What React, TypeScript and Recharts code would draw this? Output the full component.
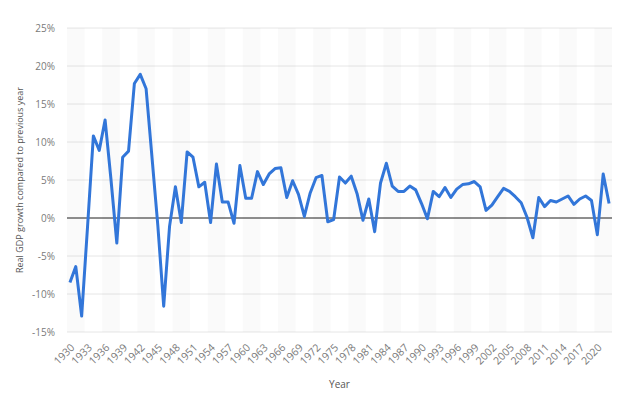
import React from 'react';
import {
  LineChart,
  Line,
  XAxis,
  YAxis,
  CartesianGrid,
  ReferenceLine,
  ReferenceArea,
} from 'recharts';

const years: number[] = [
  1930, 1931, 1932, 1933, 1934, 1935, 1936, 1937, 1938, 1939,
  1940, 1941, 1942, 1943, 1944, 1945, 1946, 1947, 1948, 1949,
  1950, 1951, 1952, 1953, 1954, 1955, 1956, 1957, 1958, 1959,
  1960, 1961, 1962, 1963, 1964, 1965, 1966, 1967, 1968, 1969,
  1970, 1971, 1972, 1973, 1974, 1975, 1976, 1977, 1978, 1979,
  1980, 1981, 1982, 1983, 1984, 1985, 1986, 1987, 1988, 1989,
  1990, 1991, 1992, 1993, 1994, 1995, 1996, 1997, 1998, 1999,
  2000, 2001, 2002, 2003, 2004, 2005, 2006, 2007, 2008, 2009,
  2010, 2011, 2012, 2013, 2014, 2015, 2016, 2017, 2018, 2019,
  2020, 2021, 2022,
];

const gdpGrowth: number[] = [
  -8.5, -6.4, -12.9, -1.2, 10.8, 8.9, 12.9, 5.1, -3.3, 8.0,
  8.8, 17.7, 18.9, 17.0, 8.0, -1.0, -11.6, -1.1, 4.1, -0.6,
  8.7, 8.0, 4.1, 4.7, -0.6, 7.1, 2.1, 2.1, -0.7, 6.9,
  2.6, 2.6, 6.1, 4.4, 5.8, 6.5, 6.6, 2.7, 4.9, 3.1,
  0.2, 3.3, 5.3, 5.6, -0.5, -0.2, 5.4, 4.6, 5.5, 3.2,
  -0.3, 2.5, -1.8, 4.6, 7.2, 4.2, 3.5, 3.5, 4.2, 3.7,
  1.9, -0.1, 3.5, 2.8, 4.0, 2.7, 3.8, 4.4, 4.5, 4.8,
  4.1, 1.0, 1.7, 2.8, 3.9, 3.5, 2.8, 2.0, 0.1, -2.6,
  2.7, 1.5, 2.3, 2.1, 2.5, 2.9, 1.8, 2.5, 2.9, 2.3,
  -2.2, 5.8, 1.9,
];

const yTicks: number[] = [-15, -10, -5, 0, 5, 10, 15, 20, 25];

const data = years.map((y, i) => ({ year: y, growth: gdpGrowth[i] }));

const stripeStarts: number[] = [];
for (let i = 0; i < years.length; i += 6) stripeStarts.push(i);

const FONT = '"Open Sans", Arial, sans-serif';

export default function App() {
  return (
    <div style={{ position: 'absolute', left: 0, top: 0 }}>
      <LineChart
        width={624}
        height={396}
        data={data}
        margin={{ top: 28, right: 12, bottom: 0, left: 0 }}
      >
        {stripeStarts.map((s) => (
          <ReferenceArea
            key={s}
            x1={years[s]}
            x2={years[Math.min(s + 2, years.length - 1)]}
            fill="#808080"
            fillOpacity={0.045}
            stroke="none"
            ifOverflow="visible"
          />
        ))}
        <CartesianGrid vertical={false} stroke="#e6e6e6" />
        <XAxis
          dataKey="year"
          type="category"
          scale="band"
          interval={2}
          height={64}
          axisLine={false}
          tickLine={false}
          angle={-45}
          textAnchor="end"
          tickMargin={5}
          tick={{ fontSize: 10.5, fill: '#7a7a7a', fontFamily: FONT }}
          label={{
            value: 'Year',
            position: 'insideBottom',
            offset: 8,
            style: { fontSize: 10, fill: '#555', fontFamily: FONT },
          }}
        />
        <YAxis
          type="number"
          domain={[-15, 25]}
          ticks={yTicks}
          width={67}
          axisLine={false}
          tickLine={false}
          tickMargin={6}
          tickFormatter={(v: number) => `${v}%`}
          tick={{ fontSize: 10, fill: '#7a7a7a', fontFamily: FONT }}
          label={{
            value: 'Real GDP growth compared to previous year',
            angle: -90,
            position: 'insideLeft',
            offset: 20,
            textAnchor: 'middle',
            style: { fontSize: 9, fill: '#555', fontFamily: FONT, textAnchor: 'middle' },
          }}
        />
        <ReferenceLine y={0} stroke="#2a2a2a" strokeWidth={1} />
        <Line
          type="linear"
          dataKey="growth"
          stroke="#3276d9"
          strokeWidth={3}
          dot={false}
          activeDot={false}
          strokeLinejoin="round"
          isAnimationActive={false}
        />
      </LineChart>
    </div>
  );
}
